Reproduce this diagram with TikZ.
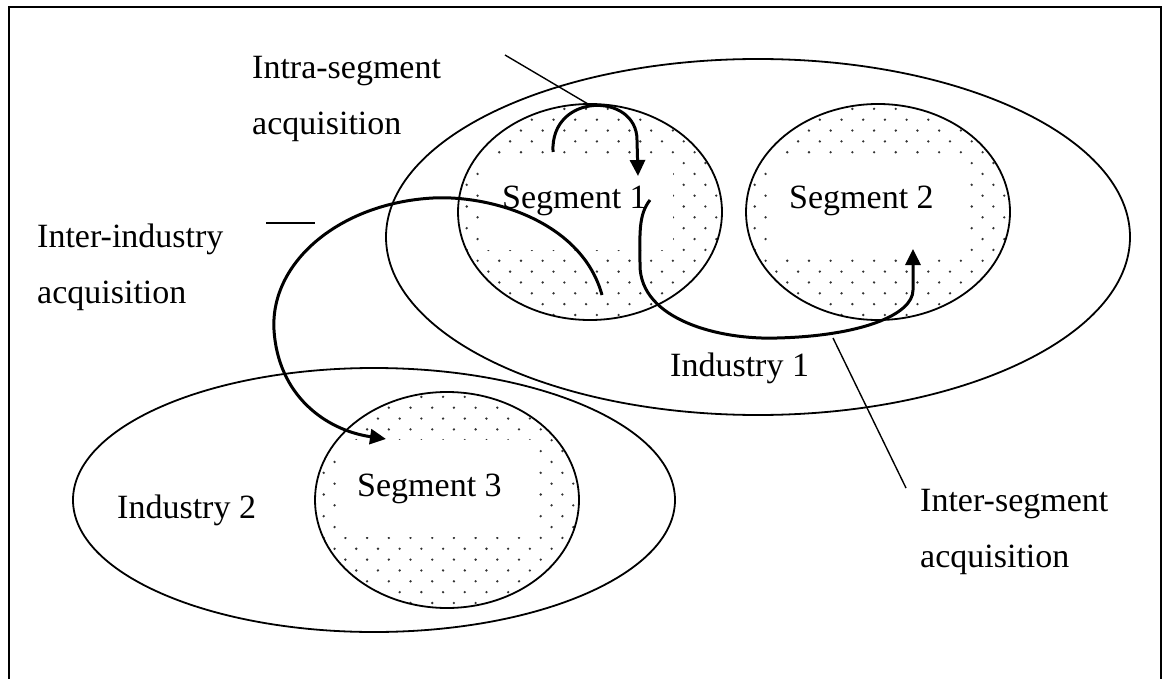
\documentclass[tikz,border=0pt]{standalone}
\usepackage{fontspec}
\setmainfont{Liberation Serif}
\usetikzlibrary{shapes.geometric,arrows.meta}

% stippled fill clipped to a segment ellipse centred at (#1,#2)
\newcommand\stipple[2]{%
  \begin{scope}
    \clip (#1,#2) ellipse [x radius=132pt, y radius=108pt];
    \foreach \r in {0,...,21}{%
      \foreach \c in {0,...,13}{%
        \fill[dotcol] ({#1-145+\c*21.7+mod(\r,2)*10.85},{#2-114+\r*10.85}) circle[radius=1.3pt];
      }%
    }%
  \end{scope}%
}

\begin{document}
\begin{tikzpicture}[x=1pt,y=-1pt,
  dotcol/.style={black!80},
  oval/.style={ellipse, draw, line width=1.8pt, inner sep=0pt, outer sep=0pt},
  industry/.style={oval},
  segment/.style={oval, minimum width=264pt, minimum height=216pt},
  clearbox/.style={rectangle, fill=white, draw=none, inner sep=0pt},
  lbl/.style={font=\fontsize{34}{40}\selectfont, anchor=base west, inner sep=0pt},
  flow/.style={line width=3pt, -{Triangle[length=16pt,width=15pt]}},
  callout/.style={line width=1.4pt}]

\useasboundingbox (0,0) rectangle (1166,679);

% open frame round the figure
\draw[line width=2.5pt] (9,685) -- (9,7) -- (1161,7) -- (1161,685);

% stippled segments with a clear area behind each name
\stipple{590}{212}
\stipple{878}{212}
\stipple{447}{500}
\node[clearbox, minimum width=190pt, minimum height=95pt] (box1) at (578,202.5) {};
\node[clearbox, minimum width=197pt, minimum height=97pt] (box2) at (868.5,204) {};
\node[clearbox, minimum width=189pt, minimum height=97pt] (box3) at (437.5,488.5) {};

% industries and segments
\node[industry, minimum width=744pt, minimum height=356pt] (ind1) at (758,237) {};
\node[industry, minimum width=602pt, minimum height=264pt] (ind2) at (374,500) {};
\node[segment] (seg1) at (590,212) {};
\node[segment] (seg2) at (878,212) {};
\node[segment] (seg3) at (447,500) {};

% names
\node[lbl] (seg1name) at (502,208) {Segment 1};
\node[lbl] (seg2name) at (789,208) {Segment 2};
\node[lbl] (seg3name) at (357,496) {Segment 3};
\node[lbl] (ind1name) at (670,376) {Industry 1};
\node[lbl] (ind2name) at (117,518) {Industry 2};

\node[lbl] (intraA) at (252,79) {Intra-segment};
\node[lbl] (intraB) at (252,135) {acquisition};
\node[lbl] (indA) at (37,247) {Inter-industry};
\node[lbl] (indB) at (37,303) {acquisition};
\node[lbl] (interA) at (920,511) {Inter-segment};
\node[lbl] (interB) at (920,567) {acquisition};

% end points of the acquisition arrows
\coordinate (intraFrom) at (553,152);
\coordinate (intraTo) at (638,176);
\coordinate (indFrom) at (602,295);
\coordinate (indTo) at (386,439);
\coordinate (interFrom) at (650,200);
\coordinate (interTo) at (913,249);

% acquisition arrows
\draw[flow] (intraFrom) .. controls (550,92) and (637,92) .. (637,140) -- (intraTo);
\draw[flow] (indFrom) .. controls (582,222) and (492,195) .. (433,198)
  .. controls (340,203) and (270,262) .. (274,330)
  .. controls (278,395) and (325,430) .. (indTo);
\draw[flow] (interFrom) .. controls (638,215) and (640,235) .. (640,265)
  .. controls (640,320) and (720,340) .. (777,338)
  .. controls (860,336) and (913,315) .. (913,290) -- (interTo);

% callout lines
\coordinate (intraTipA) at (505,55);
\coordinate (intraTipB) at (588,104);
\coordinate (indTipA) at (266,223);
\coordinate (indTipB) at (315,223);
\coordinate (interTipA) at (833,338);
\coordinate (interTipB) at (906,488);
\draw[callout] (intraTipA) -- (intraTipB);
\draw[callout] (indTipA) -- (indTipB);
\draw[callout] (interTipA) -- (interTipB);

\end{tikzpicture}
\end{document}
